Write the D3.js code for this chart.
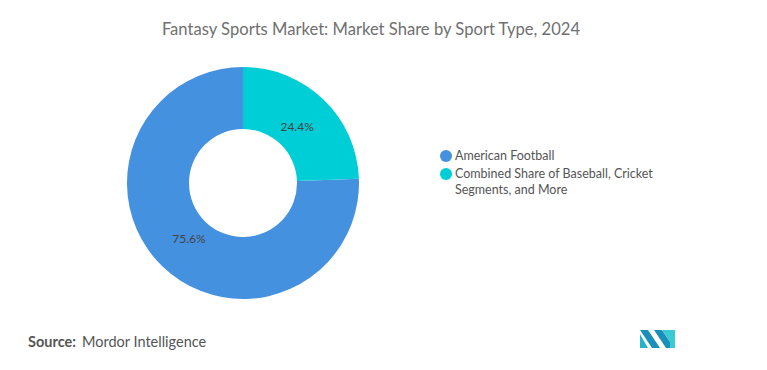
<!DOCTYPE html>
<html>
<head>
<meta charset="utf-8">
<script src="https://cdn.jsdelivr.net/npm/d3@7"></script>
<style>
  body { margin: 0; background: #fff; }
  text { font-family: Lato, "Open Sans", sans-serif; }
</style>
</head>
<body>
<div id="chart"></div>
<script>
// chart data
var segments = ["American Football", "Combined Share of Baseball, Cricket Segments, and More"];
var legendLines = [["American Football"], ["Combined Share of Baseball, Cricket", "Segments, and More"]];
var shares = [75.6, 24.4];
var colors = ["#4491e0", "#00ced6"];

var width = 767, height = 370;
var cx = 243, cy = 183, outerR = 116, innerR = 54;

var svg = d3.select("#chart").append("svg")
    .attr("width", width)
    .attr("height", height);

//title
svg.append("text")
    .attr("x", 371)
    .attr("y", 35)
    .attr("text-anchor", "middle")
    .attr("font-size", "16.6px")
    .attr("fill", "#707070")
    .text("Fantasy Sports Market: Market Share by Sport Type, 2024");

//donut, smaller slice starts at 12 o'clock going clockwise
var pie = d3.pie()
    .sort(null)
    .startAngle(-2 * Math.PI * shares[0] / 100)
    .endAngle(2 * Math.PI * shares[1] / 100)
    .value(function(d) { return d; });

var arc = d3.arc().innerRadius(innerR).outerRadius(outerR);
var labelArc = d3.arc().innerRadius(78).outerRadius(78);

var g = svg.append("g").attr("transform", "translate(" + cx + "," + cy + ")");

var arcs = pie(shares);

g.selectAll("path")
    .data(arcs)
  .enter().append("path")
    .attr("d", arc)
    .attr("fill", function(d, i) { return colors[i]; });

g.selectAll(".lbl")
    .data(arcs)
  .enter().append("text")
    .attr("class", "lbl")
    .attr("transform", function(d) { return "translate(" + labelArc.centroid(d) + ")"; })
    .attr("text-anchor", "middle")
    .attr("dy", "0.35em")
    .attr("font-size", "12px")
    .attr("fill", "#444")
    .text(function(d) { return d.data.toFixed(1) + "%"; });

//legend
var legend = svg.append("g").attr("transform", "translate(446,156)");
var item = legend.selectAll(".item")
    .data(segments)
  .enter().append("g")
    .attr("class", "item")
    .attr("transform", function(d, i) { return "translate(0," + (i * 18) + ")"; });

item.append("circle")
    .attr("r", 6)
    .attr("fill", function(d, i) { return colors[i]; });

item.append("text")
    .attr("x", 9)
    .attr("y", 4)
    .attr("font-size", "12.5px")
    .attr("fill", "#555")
    .selectAll("tspan")
    .data(function(d, i) { return legendLines[i]; })
  .enter().append("tspan")
    .attr("x", 9)
    .attr("dy", function(d, j) { return j === 0 ? 0 : "1.25em"; })
    .text(function(d) { return d; });

//source
var src = svg.append("text")
    .attr("x", 28)
    .attr("y", 347)
    .attr("font-size", "14.5px")
    .attr("fill", "#555");
src.append("tspan").attr("font-weight", "bold").text("Source:");
src.append("tspan").attr("dx", 6).text("Mordor Intelligence");

//logo
var logo = svg.append("g").attr("transform", "translate(640,330)");
logo.append("path").attr("d", "M0,0 L8,0 L20,18 L12,18 Z").attr("fill", "#1a8fb8");
logo.append("path").attr("d", "M0,4 L8,18 L0,18 Z").attr("fill", "#26b3c8");
logo.append("path").attr("d", "M14,0 L22,0 L34,18 L26,18 Z").attr("fill", "#1a8fb8");
logo.append("path").attr("d", "M22,0 L30,0 L30,12 Z").attr("fill", "#3cc9d6");
logo.append("rect").attr("x", 30).attr("y", 0).attr("width", 5).attr("height", 18).attr("fill", "#3cc9d6");
</script>
</body>
</html>
